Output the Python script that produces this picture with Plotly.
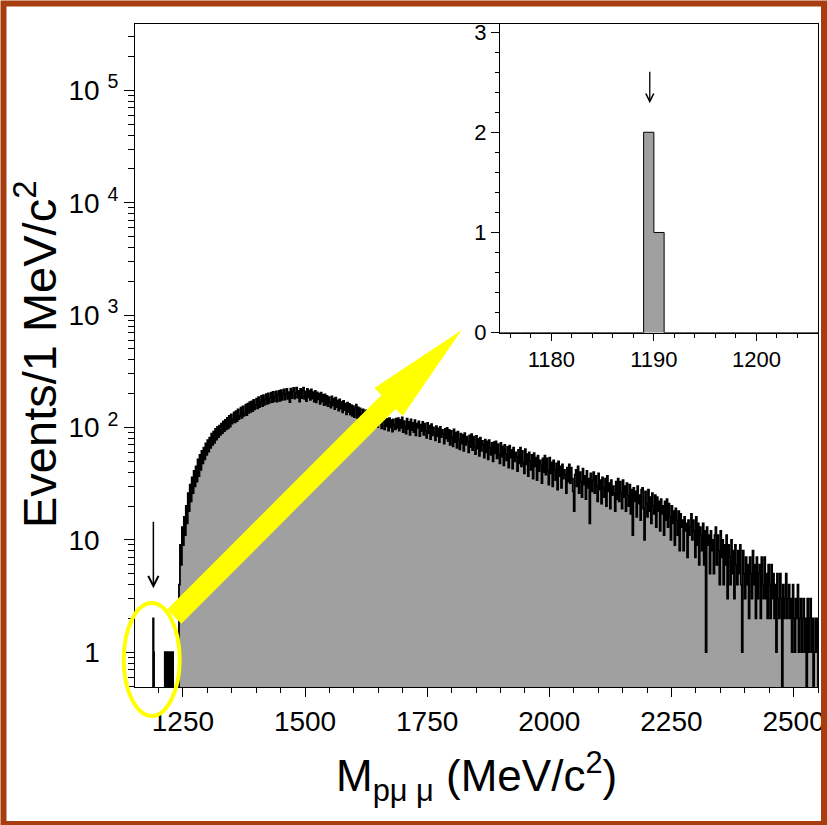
import math
import plotly.graph_objects as go

# --- Data: events per 1 MeV/c^2 ---
# isolated low-mass candidates (1 MeV bins, lower edge in MeV/c^2)
THRESHOLD_EDGES = [1189, 1190, 1213, 1214, 1218, 1222, 1223, 1227, 1229]
THRESHOLD_COUNTS = [2, 1, 1, 1, 1, 1, 1, 1, 1]

# main continuum, read every 2 MeV starting at BIN_START (events / 1 MeV)
BIN_START = 1240
BIN_WIDTH = 2
COUNTS = [
    0, 4, 9, 6, 13, 9, 16, 11, 20, 14, 26, 18, 31, 22, 36, 26, 41, 30, 45, 33, 52, 37, 57, 42, 62,
    48, 66, 52, 72, 57, 77, 61, 81, 66, 88, 70, 92, 73, 97, 78, 101, 82, 104, 86, 108, 89, 113, 93, 117, 96,
    122, 98, 127, 102, 131, 108, 118, 136, 111, 140, 114, 145, 119, 126, 150, 122, 154, 127, 133, 160, 129, 163, 135, 168, 138,
    171, 140, 176, 145, 158, 181, 148, 186, 152, 170, 191, 155, 194, 159, 178, 198, 162, 201, 166, 183, 204, 168, 207, 171, 188,
    209, 170, 196, 212, 173, 215, 176, 202, 218, 177, 199, 221, 180, 206, 168, 222, 183, 210, 225, 181, 203, 226, 184, 212, 170,
    221, 183, 214, 226, 180, 209, 172, 220, 185, 213, 176, 218, 181, 206, 170, 212, 167, 205, 178, 200, 162, 204, 170, 196, 158,
    197, 160, 191, 155, 186, 168, 150, 189, 157, 181, 146, 184, 152, 174, 141, 178, 147, 169, 136, 172, 143, 163, 131, 166, 138,
    162, 130, 158, 127, 155, 124, 147, 160, 122, 151, 118, 148, 131, 115, 145, 126, 112, 142, 123, 109, 138, 119, 133, 106, 128,
    134, 104, 130, 110, 101, 128, 107, 125, 98, 122, 114, 96, 124, 103, 119, 94, 121, 100, 116, 92, 118, 105, 96, 120, 99,
    121, 94, 117, 99, 123, 91, 114, 102, 88, 120, 97, 112, 86, 118, 95, 110, 91, 116, 85, 108, 99, 113, 84, 106, 93,
    112, 86, 108, 93, 81, 110, 89, 104, 79, 107, 85, 100, 91, 77, 103, 84, 98, 74, 101, 82, 95, 88, 72, 97, 80,
    99, 76, 95, 70, 93, 81, 68, 96, 74, 90, 66, 92, 78, 64, 88, 72, 86, 62, 89, 70, 83, 75, 60, 85, 67,
    87, 63, 83, 68, 58, 84, 65, 79, 56, 81, 62, 76, 70, 54, 78, 60, 75, 52, 77, 66, 57, 73, 50, 74, 59,
    75, 53, 71, 57, 48, 73, 55, 68, 46, 70, 58, 51, 67, 44, 69, 54, 63, 43, 66, 50, 60, 55, 41, 63, 48,
    66, 45, 62, 49, 39, 64, 47, 58, 37, 60, 50, 42, 57, 35, 59, 45, 54, 34, 56, 41, 51, 46, 32, 53, 40,
    56, 38, 53, 41, 31, 54, 39, 49, 30, 51, 42, 34, 48, 28, 50, 37, 45, 29, 47, 35, 42, 38, 26, 44, 33,
    47, 32, 44, 35, 27, 18, 38, 42, 30, 45, 26, 40, 33, 24, 43, 31, 37, 23, 41, 29, 35, 14, 39, 27, 34,
    40, 26, 37, 30, 22, 39, 28, 34, 21, 36, 29, 24, 35, 20, 37, 27, 32, 19, 34, 25, 30, 26, 18, 33, 23,
    35, 22, 33, 26, 19, 34, 24, 30, 18, 32, 25, 20, 31, 17, 28, 11, 29, 22, 27, 16, 30, 21, 25, 15, 28,
    29, 19, 10, 27, 21, 16, 28, 18, 24, 14, 26, 20, 17, 25, 13, 24, 18, 22, 12, 23, 17, 20, 11, 22, 15,
    23, 13, 21, 16, 10, 20, 14, 18, 9, 19, 15, 11, 18, 8, 17, 13, 15, 8, 16, 12, 14, 7, 15, 11, 13,
    17, 10, 15, 12, 7, 16, 9, 14, 6, 13, 11, 8, 14, 6, 12, 1, 13, 9, 11, 5, 12, 8, 10, 5, 11,
    13, 6, 11, 8, 4, 12, 7, 10, 4, 9, 6, 11, 3, 9, 7, 4, 10, 5, 8, 3, 9, 6, 4, 8, 5,
    9, 4, 1, 8, 5, 3, 7, 4, 6, 2, 7, 5, 3, 8, 4, 6, 2, 7, 3, 5, 6, 2, 7, 4, 3,
    7, 3, 5, 2, 6, 4, 2, 6, 3, 5, 2, 4, 1, 5, 3, 2, 5, 3, 0, 4, 2, 3, 5, 2, 3,
    4, 2, 3, 1, 4, 2, 1, 3, 2, 4, 1, 2, 3, 1, 2, 3, 1, 2, 0, 3, 1, 2, 3, 1, 2,
    0, 1, 2, 1, 2,
]

# --- Axes ---
X_RANGE = [1152, 2550]
Y_RANGE = [0.49, 3.9e5]
INSET_X_RANGE = [1175, 1206]
INSET_Y_RANGE = [0, 3.08]
Y_TICKS = [1, 10, 100, 1000, 10000, 100000]

FILL_GREY = '#a0a0a0'
YELLOW = '#ffff00'
BORDER = '#a83e10'
FONT = 'Liberation Sans, Arial, Helvetica, sans-serif'

W, H = 827, 825
PLOT_L, PLOT_R, PLOT_T, PLOT_B = 135, 818, 24, 687


def px(X):
    return (X - PLOT_L) / (PLOT_R - PLOT_L)


def py(Y):
    return (PLOT_B - Y) / (PLOT_B - PLOT_T)


def step_arrays(lo, hi, floor):
    """Left edges and values of the histogram between lo and hi (1 MeV below BIN_START)."""
    thr = dict(zip(THRESHOLD_EDGES, THRESHOLD_COUNTS))
    xs, ys = [], []
    for e in range(lo, min(hi, BIN_START)):
        xs.append(e)
        ys.append(thr.get(e, 0))
    for i, c in enumerate(COUNTS):
        e = BIN_START + i * BIN_WIDTH
        if lo <= e < hi:
            xs.append(e)
            ys.append(c)
    xs.append(hi)
    ys.append(0)
    ys = [v if v > 0 else floor for v in ys]
    return xs, ys


fig = go.Figure()

# main histogram (log scale); empty bins drop below the axis
mx, my = step_arrays(X_RANGE[0], X_RANGE[1], 0.05)
fig.add_trace(go.Scatter(
    x=mx, y=my, mode='lines',
    line=dict(shape='hv', color='black', width=1.8, simplify=False),
    fill='tozeroy', fillcolor=FILL_GREY,
    hoverinfo='skip', showlegend=False,
))

# inset: zoom on the threshold region
ix, iy = step_arrays(INSET_X_RANGE[0], INSET_X_RANGE[1], 0)
fig.add_trace(go.Scatter(
    x=ix, y=iy, mode='lines', xaxis='x2', yaxis='y2',
    line=dict(shape='hv', color='black', width=1, simplify=False),
    fill='tozeroy', fillcolor=FILL_GREY,
    hoverinfo='skip', showlegend=False,
))

pad = "<span style='color:rgba(0,0,0,0)'> <sup>0</sup></span>"
y_ticktext = []
for v in Y_TICKS:
    e = int(round(math.log10(v)))
    if e == 0:
        y_ticktext.append('1' + pad)
    elif e == 1:
        y_ticktext.append('10' + pad)
    else:
        y_ticktext.append(f'10 <sup>{e}</sup>')

minor_log = [m * 10 ** e for e in range(-1, 6) for m in range(2, 10)]

axis_common = dict(showline=True, linecolor='black', linewidth=1, mirror=True,
                   ticks='outside', tickcolor='black', tickwidth=1, automargin=False,
                   showgrid=False, zeroline=False)

fig.update_layout(
    width=W, height=H,
    margin=dict(l=PLOT_L, r=W - PLOT_R, t=PLOT_T, b=H - PLOT_B, autoexpand=False),
    paper_bgcolor='white', plot_bgcolor='white',
    font=dict(family=FONT, color='black'),
    xaxis=dict(range=X_RANGE, dtick=250, tick0=0, ticklen=9,
               tickfont=dict(family=FONT, size=28, color='black'),
               minor=dict(dtick=50, tick0=0, ticks='outside', ticklen=5, tickcolor='black', showgrid=False),
               **axis_common),
    yaxis=dict(type='log', range=[math.log10(Y_RANGE[0]), math.log10(Y_RANGE[1])],
               tickmode='array', tickvals=Y_TICKS, ticktext=y_ticktext, ticklen=10,
               tickfont=dict(family=FONT, size=28, color='black'),
               minor=dict(tickmode='array', tickvals=minor_log, ticks='outside', ticklen=6,
                          tickcolor='black', showgrid=False),
               **axis_common),
    xaxis2=dict(domain=[px(500), 1.0], anchor='y2', range=INSET_X_RANGE, dtick=10, tick0=0, ticklen=7,
                tickfont=dict(family=FONT, size=22, color='black'),
                minor=dict(dtick=2, tick0=0, ticks='outside', ticklen=4, tickcolor='black', showgrid=False),
                **axis_common),
    yaxis2=dict(domain=[py(332.7), 1.0], anchor='x2', range=INSET_Y_RANGE, dtick=1, tick0=0, ticklen=8,
                tickfont=dict(family=FONT, size=22, color='black'),
                minor=dict(dtick=0.2, tick0=0, ticks='outside', ticklen=4, tickcolor='black', showgrid=False),
                **axis_common),
)

# axis titles
fig.add_annotation(text='Events/1 MeV/c<sup>2</sup>', xref='paper', yref='paper',
                   x=px(36), y=py(355), textangle=-90, showarrow=False,
                   xanchor='center', yanchor='middle', font=dict(family=FONT, size=47, color='black'))
fig.add_annotation(text='M<sub>pμ μ</sub> (MeV/c<sup>2</sup>)', xref='paper', yref='paper',
                   x=px(476), y=py(776), showarrow=False,
                   xanchor='center', yanchor='middle', font=dict(family=FONT, size=44, color='black'))

# black arrows marking the candidate events
fig.add_annotation(x=1189.6, y=math.log10(3.7), xref='x', yref='y', text='', showarrow=True,
                   ax=0, ay=-68, arrowhead=5, arrowwidth=1.5, arrowsize=1.35, arrowcolor='black')
fig.add_annotation(x=1189.6, y=2.29, xref='x2', yref='y2', text='', showarrow=True,
                   ax=0, ay=-33, arrowhead=5, arrowwidth=1.3, arrowsize=1.2, arrowcolor='black')

# yellow ellipse around the threshold events
fig.add_shape(type='circle', xref='paper', yref='paper',
              x0=px(123.7), x1=px(179.7), y0=py(716), y1=py(603),
              line=dict(color=YELLOW, width=4), layer='above')

# yellow arrow pointing to the inset
arrow_pts = [(167.1, 609.6), (381.4, 394.9), (374.4, 387.9), (461.7, 330.0),
             (402.6, 416.1), (395.6, 409.1), (181.3, 623.8)]
path = 'M ' + ' L '.join(f'{px(x):.5f},{py(y):.5f}' for x, y in arrow_pts) + ' Z'
fig.add_shape(type='path', xref='paper', yref='paper', path=path,
              fillcolor=YELLOW, line=dict(color=YELLOW, width=0), layer='above')

# brown frame around the whole picture
fig.add_shape(type='rect', xref='paper', yref='paper',
              x0=px(3.5), x1=px(824), y0=py(824), y1=py(3.5),
              line=dict(color=BORDER, width=6), layer='above')

# the page's default body margin would shift the figure by 8 px
fig.write_html("out.html", config={'displayModeBar': False},
               post_script="document.body.style.margin='0px';")
